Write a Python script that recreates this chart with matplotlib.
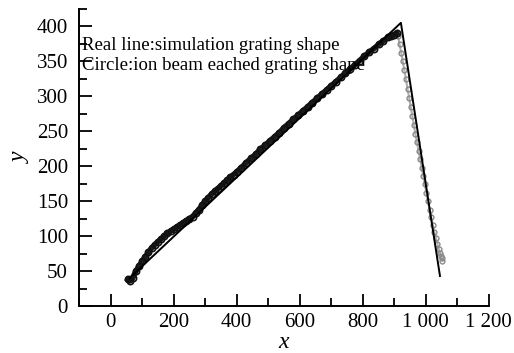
import matplotlib.pyplot as plt
from matplotlib.ticker import MultipleLocator, FuncFormatter

plt.rcParams['font.family'] = ['Liberation Serif', 'DejaVu Serif']

# simulation grating shape (real line)
sim_x = [60, 921, 1045]
sim_y = [40, 405, 43]

# ion beam etched grating shape (circles), rising facet
etch_x = [55, 62, 70, 80, 90, 100, 110, 120, 130, 140, 150, 160, 170, 180, 190,
          200, 210, 220, 230, 240, 250, 260, 270, 280, 290, 300, 310, 320, 330,
          340, 350, 360, 370, 380, 390, 400, 415, 430, 445, 460, 475, 490, 505,
          520, 535, 550, 565, 580, 595, 610, 625, 640, 655, 670, 685, 700, 715,
          730, 745, 760, 775, 790, 805, 820, 835, 850, 865, 880, 890, 900, 908]
etch_y = [38, 36, 40, 50, 57, 64, 70, 77, 83, 88, 92, 96, 100, 104, 107,
          110, 113, 116, 119, 122, 125, 128, 133, 138, 144, 150, 155, 160, 164,
          168, 172, 176, 180, 184, 188, 192, 198, 205, 211, 217, 224, 230, 236,
          242, 248, 255, 261, 267, 273, 279, 285, 291, 297, 303, 309, 315, 321,
          327, 333, 339, 345, 351, 357, 363, 368, 374, 379, 384, 386, 388, 390]

# etched shape, falling facet (grey)
fall_x = [912, 917, 922, 927, 932, 937, 942, 947, 952, 957, 962, 967, 972,
          977, 982, 987, 992, 997, 1002, 1007, 1012, 1017, 1022, 1027, 1032,
          1037, 1041, 1045, 1048, 1051, 1053]
fall_y = [386, 374, 362, 350, 337, 324, 311, 298, 285, 272, 259, 246, 234,
          222, 210, 198, 186, 174, 162, 150, 138, 127, 116, 106, 97,
          89, 82, 76, 72, 68, 65]

fig = plt.figure(figsize=(5.14, 3.53), dpi=100)
ax = fig.add_axes([0.154, 0.133, 0.797, 0.842])

ax.plot(fall_x, fall_y, linestyle='-', color='#b0b0b0', linewidth=1.5,
        marker='o', markersize=3.5, markerfacecolor='none',
        markeredgecolor='#8a8a8a', markeredgewidth=1)
ax.plot(etch_x, etch_y, linestyle='-', color='#1a1a1a', linewidth=4,
        marker='o', markersize=4.5, markerfacecolor='none',
        markeredgecolor='#111111', markeredgewidth=1.2)
ax.plot(sim_x, sim_y, color='black', linewidth=1.4)

ax.set_xlim(-100, 1200)
ax.set_ylim(0, 425)
ax.xaxis.set_major_locator(MultipleLocator(200))
ax.xaxis.set_minor_locator(MultipleLocator(100))
ax.yaxis.set_major_locator(MultipleLocator(50))
ax.yaxis.set_minor_locator(MultipleLocator(25))
ax.xaxis.set_major_formatter(FuncFormatter(
    lambda v, p: f"{int(v):,}".replace(',', ' ')))

for s in ['top', 'right']:
    ax.spines[s].set_visible(False)
for s in ['left', 'bottom']:
    ax.spines[s].set_linewidth(1.4)

ax.tick_params(which='both', direction='in', width=1.3, labelsize=15)
ax.tick_params(axis='x', which='major', length=9, pad=5)
ax.tick_params(axis='y', which='major', length=9, pad=8)
ax.tick_params(which='minor', length=6)

ax.set_xlabel('x', fontsize=17, fontstyle='italic', labelpad=0)
ax.set_ylabel('y', fontsize=17, fontstyle='italic', labelpad=4)

ax.text(-90, 373, 'Real line:simulation grating shape', fontsize=13.5,
        va='center', ha='left')
ax.text(-90, 344, 'Circle:ion beam eached grating shape', fontsize=13.5,
        va='center', ha='left')

fig.savefig('out.png', dpi=100)
